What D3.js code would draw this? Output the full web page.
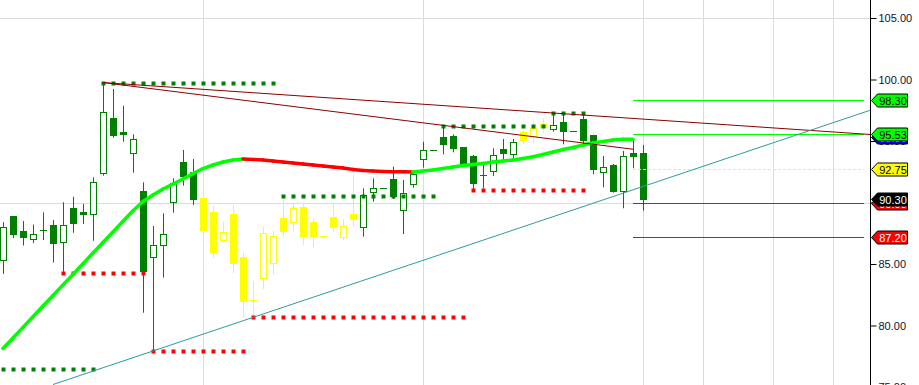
<!DOCTYPE html>
<html>
<head>
<meta charset="utf-8">
<script src="https://cdn.jsdelivr.net/npm/d3@7"></script>
<style>
  html, body { margin: 0; padding: 0; background: #fff; }
  svg { display: block; font-family: "Liberation Sans", Arial, sans-serif; }
</style>
</head>
<body>
<div id="chart"></div>
<script>
// bars: open, high, low, close
const opens  = [85.3, 88.9, 87.7, 87.0, 87.78, 88.17, 86.81, 89.58, 89.2, 89.04, 92.37, 96.85, 95.76, 94.0, 90.93, 85.54, 86.49, 90.02, 93.27, 92.46,
                90.39, 89.2, 87.01, 89.07, 85.54, 82.08, 83.84, 85.06, 88.76, 88.36, 89.61, 88.39, 87.3, 88.8, 87.22, 89.07, 87.98, 90.83, 91.16, 91.89,
                89.33, 91.48, 93.51, 94.28, 95.3, 95.4, 94.49, 93.78, 92.25, 92.5, 94.35, 93.92, 95.71, 95.35, 96.38, 95.95, 96.52, 95.82, 96.76, 95.49,
                92.48, 93.05, 90.96, 94.0, 94.0];
const highs  = [88.4, 88.9, 88.5, 88.2, 89.2, 88.58, 90.02, 90.47, 89.88, 92.05, 99.75, 99.23, 97.87, 95.54, 91.64, 88.09, 89.12, 91.97, 94.27, 93.54,
                92.15, 89.72, 88.44, 89.8, 86.0, 83.62, 88.03, 87.68, 90.53, 89.88, 89.98, 88.66, 87.32, 89.98, 88.66, 92.32, 91.15, 91.97, 91.16, 92.91,
                91.83, 92.5, 94.94, 94.28, 96.25, 95.54, 94.5, 93.86, 93.05, 94.41, 95.16, 95.16, 95.89, 96.57, 96.85, 97.28, 97.28, 95.82, 97.28, 95.5,
                93.78, 93.13, 94.19, 95.1, 94.67];
const lows   = [84.2, 87.1, 86.5, 86.7, 86.95, 85.11, 84.37, 87.54, 88.25, 86.89, 92.18, 95.27, 94.94, 92.42, 81.04, 77.93, 83.89, 89.17, 91.37, 89.8,
                84.57, 85.51, 86.73, 84.24, 80.67, 80.72, 82.97, 84.11, 87.22, 87.68, 86.54, 86.41, 87.26, 87.63, 86.95, 88.03, 87.22, 90.07, 91.14, 90.28,
                87.44, 91.2, 92.83, 94.26, 93.92, 94.08, 93.0, 91.05, 91.15, 92.15, 93.32, 93.59, 94.73, 94.86, 95.67, 95.76, 94.73, 95.8, 94.67, 92.29,
                91.24, 90.8, 89.53, 92.78, 89.33];
const closes = [88.0, 87.4, 87.2, 87.4, 87.72, 86.73, 88.17, 88.36, 89.04, 91.64, 97.33, 95.43, 95.63, 95.14, 84.43, 86.54, 87.41, 91.56, 92.15, 90.28,
                87.82, 85.92, 87.63, 85.06, 81.93, 82.02, 87.5, 87.28, 87.68, 89.53, 87.22, 87.22, 87.27, 87.95, 88.11, 88.63, 90.61, 91.15, 91.15, 90.53,
                90.75, 92.32, 94.27, 94.27, 94.73, 94.41, 93.05, 91.61, 92.23, 93.84, 94.05, 94.89, 95.02, 96.03, 96.11, 96.27, 95.76, 95.81, 95.02, 92.7,
                92.91, 90.96, 93.8, 93.73, 90.3];
// trend state of each bar: g = up, y = neutral, r = last bar
const trend = "ggggggggggggggggggggyyyyyyyyyyyyyyyyggggggggggggggggyyyggggggggggr".slice(0, 65).split("");

// smoothed average, one value per bar (bars 0..63)
const avg = [78.13, 78.99, 79.85, 80.72, 81.59, 82.44, 83.3, 84.16, 85.02, 85.89, 86.75, 87.61, 88.47, 89.33, 90.08, 90.61, 91.1, 91.5, 91.91, 92.36,
             92.76, 93.05, 93.29, 93.46, 93.54, 93.5, 93.46, 93.37, 93.29, 93.21, 93.13, 93.05, 92.97, 92.89, 92.8, 92.68, 92.6, 92.56, 92.53, 92.51,
             92.49, 92.48, 92.56, 92.64, 92.76, 92.89, 93.01, 93.09, 93.17, 93.29, 93.37, 93.46, 93.58, 93.72, 93.9, 94.11, 94.31, 94.47, 94.67, 94.84,
             94.96, 95.08, 95.14, 95.14];

// dotted swing levels: [first bar, last bar, price]
const resistLevels = [[0, 9, 76.46], [10, 27, 99.75], [28, 43, 90.53], [44, 54, 96.25], [55, 58, 97.28]];
const supportLevels = [[6, 14, 84.29], [15, 24, 77.93], [25, 46, 80.72], [47, 58, 91.04]];

// trend lines: two anchors [bar, price], drawn from bar `from` to `to` (null = axis)
const trendLines = [
  { a: [10, 99.75], b: [60, 97.0], from: 10, to: null, color: "#8b0000" },
  { a: [10, 99.75], b: [63, 94.33], from: 10, to: 63, color: "#8b0000" },
  { a: [15, 77.93], b: [60, 90.21], from: 5, to: null, color: "#2e9c9c" }
];

// target levels on the right
const targetPrices = [98.30, 95.53, 92.75, 90.00, 87.20];
const targetColors = ["#00ff00", "#00ff00", "#ffff00", "#ff0000", "#ff0000"];

// price tags on the axis: value, fill, text colour
const tagValues = [98.30, 95.30, 95.53, 92.75, 90.00, 90.30, 87.20];
const tagFills  = ["#00ff00", "#0000ff", "#00ff00", "#ffff00", "#ff0000", "#000000", "#ff0000"];
const tagTexts  = ["#000", "#fff", "#000", "#000", "#fff", "#fff", "#fff"];

const yTicks = [105, 100, 95, 90, 85, 80, 75];
const yGrid = [105, 90, 75];
const xGridBars = [20, 42, 64, 70, 77, 83];

const width = 919, height = 385;
const axisX = 870;

const svg = d3.select("#chart").append("svg")
  .attr("width", width).attr("height", height);

const y = d3.scaleLinear().domain([75, 105]).range([387, 18]);
const x = d3.scaleLinear().domain([0, 1]).range([3, 13]);
const axisBar = x.invert(axisX);
const px = v => Math.round(v) + 0.5;

// grid
svg.append("g").selectAll("line").data(yGrid).join("line")
  .attr("x1", 0).attr("x2", axisX).attr("y1", d => px(y(d))).attr("y2", d => px(y(d)))
  .attr("stroke", "#dcdcdc");
svg.append("g").selectAll("line").data(xGridBars).join("line")
  .attr("x1", d => px(x(d))).attr("x2", d => px(x(d))).attr("y1", 0).attr("y2", height)
  .attr("stroke", "#dcdcdc");

// candles
const colorOf = { g: "#008000", y: "#ffff00", r: "#ff0000" };
const bars = opens.map((o, i) => ({ i, o, h: highs[i], l: lows[i], c: closes[i], t: trend[i] }));
const cg = svg.append("g");
bars.forEach(d => {
  const cx = px(x(d.i));
  const col = colorOf[d.t];
  const edge = d.t === "r" ? "#000" : col;
  cg.append("line").attr("x1", cx).attr("x2", cx)
    .attr("y1", y(d.h)).attr("y2", y(d.l)).attr("stroke", edge);
  const top = y(Math.max(d.o, d.c)), bot = y(Math.min(d.o, d.c));
  if (bot - top < 1.5) {
    cg.append("line").attr("x1", cx - 3.5).attr("x2", cx + 3.5)
      .attr("y1", px(top)).attr("y2", px(top)).attr("stroke", edge);
  } else {
    cg.append("rect").attr("x", cx - 3).attr("width", 6)
      .attr("y", px(top)).attr("height", Math.max(1, Math.round(bot - top)))
      .attr("fill", d.c > d.o ? "#fff" : col).attr("stroke", edge);
  }
});

// dotted levels
function dots(levels, color) {
  const g = svg.append("g").attr("fill", color);
  levels.forEach(([a, b, p]) => {
    g.selectAll(null).data(d3.range(a, b + 1)).join("rect")
      .attr("x", i => Math.round(x(i)) - 1.5).attr("y", Math.round(y(p)) - 1.5)
      .attr("width", 4).attr("height", 4);
  });
}
dots(resistLevels, "#008000");
dots(supportLevels, "#ff0000");

// smoothed average, red where falling
const ag = svg.append("g").attr("fill", "none").attr("stroke-width", 3.5).attr("stroke-linecap", "round");
for (let i = 0; i < avg.length - 1; i++) {
  ag.append("line")
    .attr("x1", x(i)).attr("y1", y(avg[i])).attr("x2", x(i + 1)).attr("y2", y(avg[i + 1]))
    .attr("stroke", avg[i + 1] < avg[i] ? "#ff0000" : "#00ff00");
}

// target lines
svg.append("g").selectAll("line").data(targetPrices).join("line")
  .attr("x1", x(63)).attr("x2", axisX - 6)
  .attr("y1", d => px(y(d))).attr("y2", d => px(y(d)))
  .attr("stroke", (d, i) => targetColors[i])
  .attr("stroke-dasharray", (d, i) => targetColors[i] === "#ffff00" ? "3,2" : null);

// trend lines
trendLines.forEach(t => {
  const slope = (t.b[1] - t.a[1]) / (t.b[0] - t.a[0]);
  const at = b => t.a[1] + (b - t.a[0]) * slope;
  const end = t.to === null ? axisBar : t.to;
  svg.append("line")
    .attr("x1", x(t.from)).attr("y1", y(at(t.from)))
    .attr("x2", x(end)).attr("y2", y(at(end)))
    .attr("stroke", t.color).attr("stroke-width", 1);
});

// right axis
const axis = d3.axisRight(y).tickValues(yTicks).tickFormat(d3.format(".2f")).tickSize(6).tickPadding(2);
const ax = svg.append("g").attr("transform", `translate(${axisX + 0.5},0)`).call(axis);
ax.select(".domain").attr("d", `M0,0V${height}`).attr("stroke", "#000");
ax.selectAll(".tick line").attr("stroke", "#000");
ax.selectAll(".tick text").attr("fill", "#101030").style("font-size", "11px")
  .style("font-family", "'Liberation Sans', Arial, sans-serif");

// price tags
const tg = svg.append("g");
tagValues.forEach((v, i) => {
  const cy = Math.round(y(v)) + 0.5;
  const x0 = axisX + 1.5, x1 = axisX + 7.5, x2 = axisX + 37.5;
  tg.append("path")
    .attr("d", `M${x0},${cy}L${x1},${cy - 6.5}H${x2}V${cy + 6.5}H${x1}Z`)
    .attr("fill", tagFills[i]).attr("stroke", "#000");
  tg.append("text").attr("x", (x1 + x2) / 2 + 0.5).attr("y", cy + 4)
    .attr("text-anchor", "middle").attr("fill", tagTexts[i])
    .style("font-size", "11px").text(v.toFixed(2));
});
</script>
</body>
</html>
